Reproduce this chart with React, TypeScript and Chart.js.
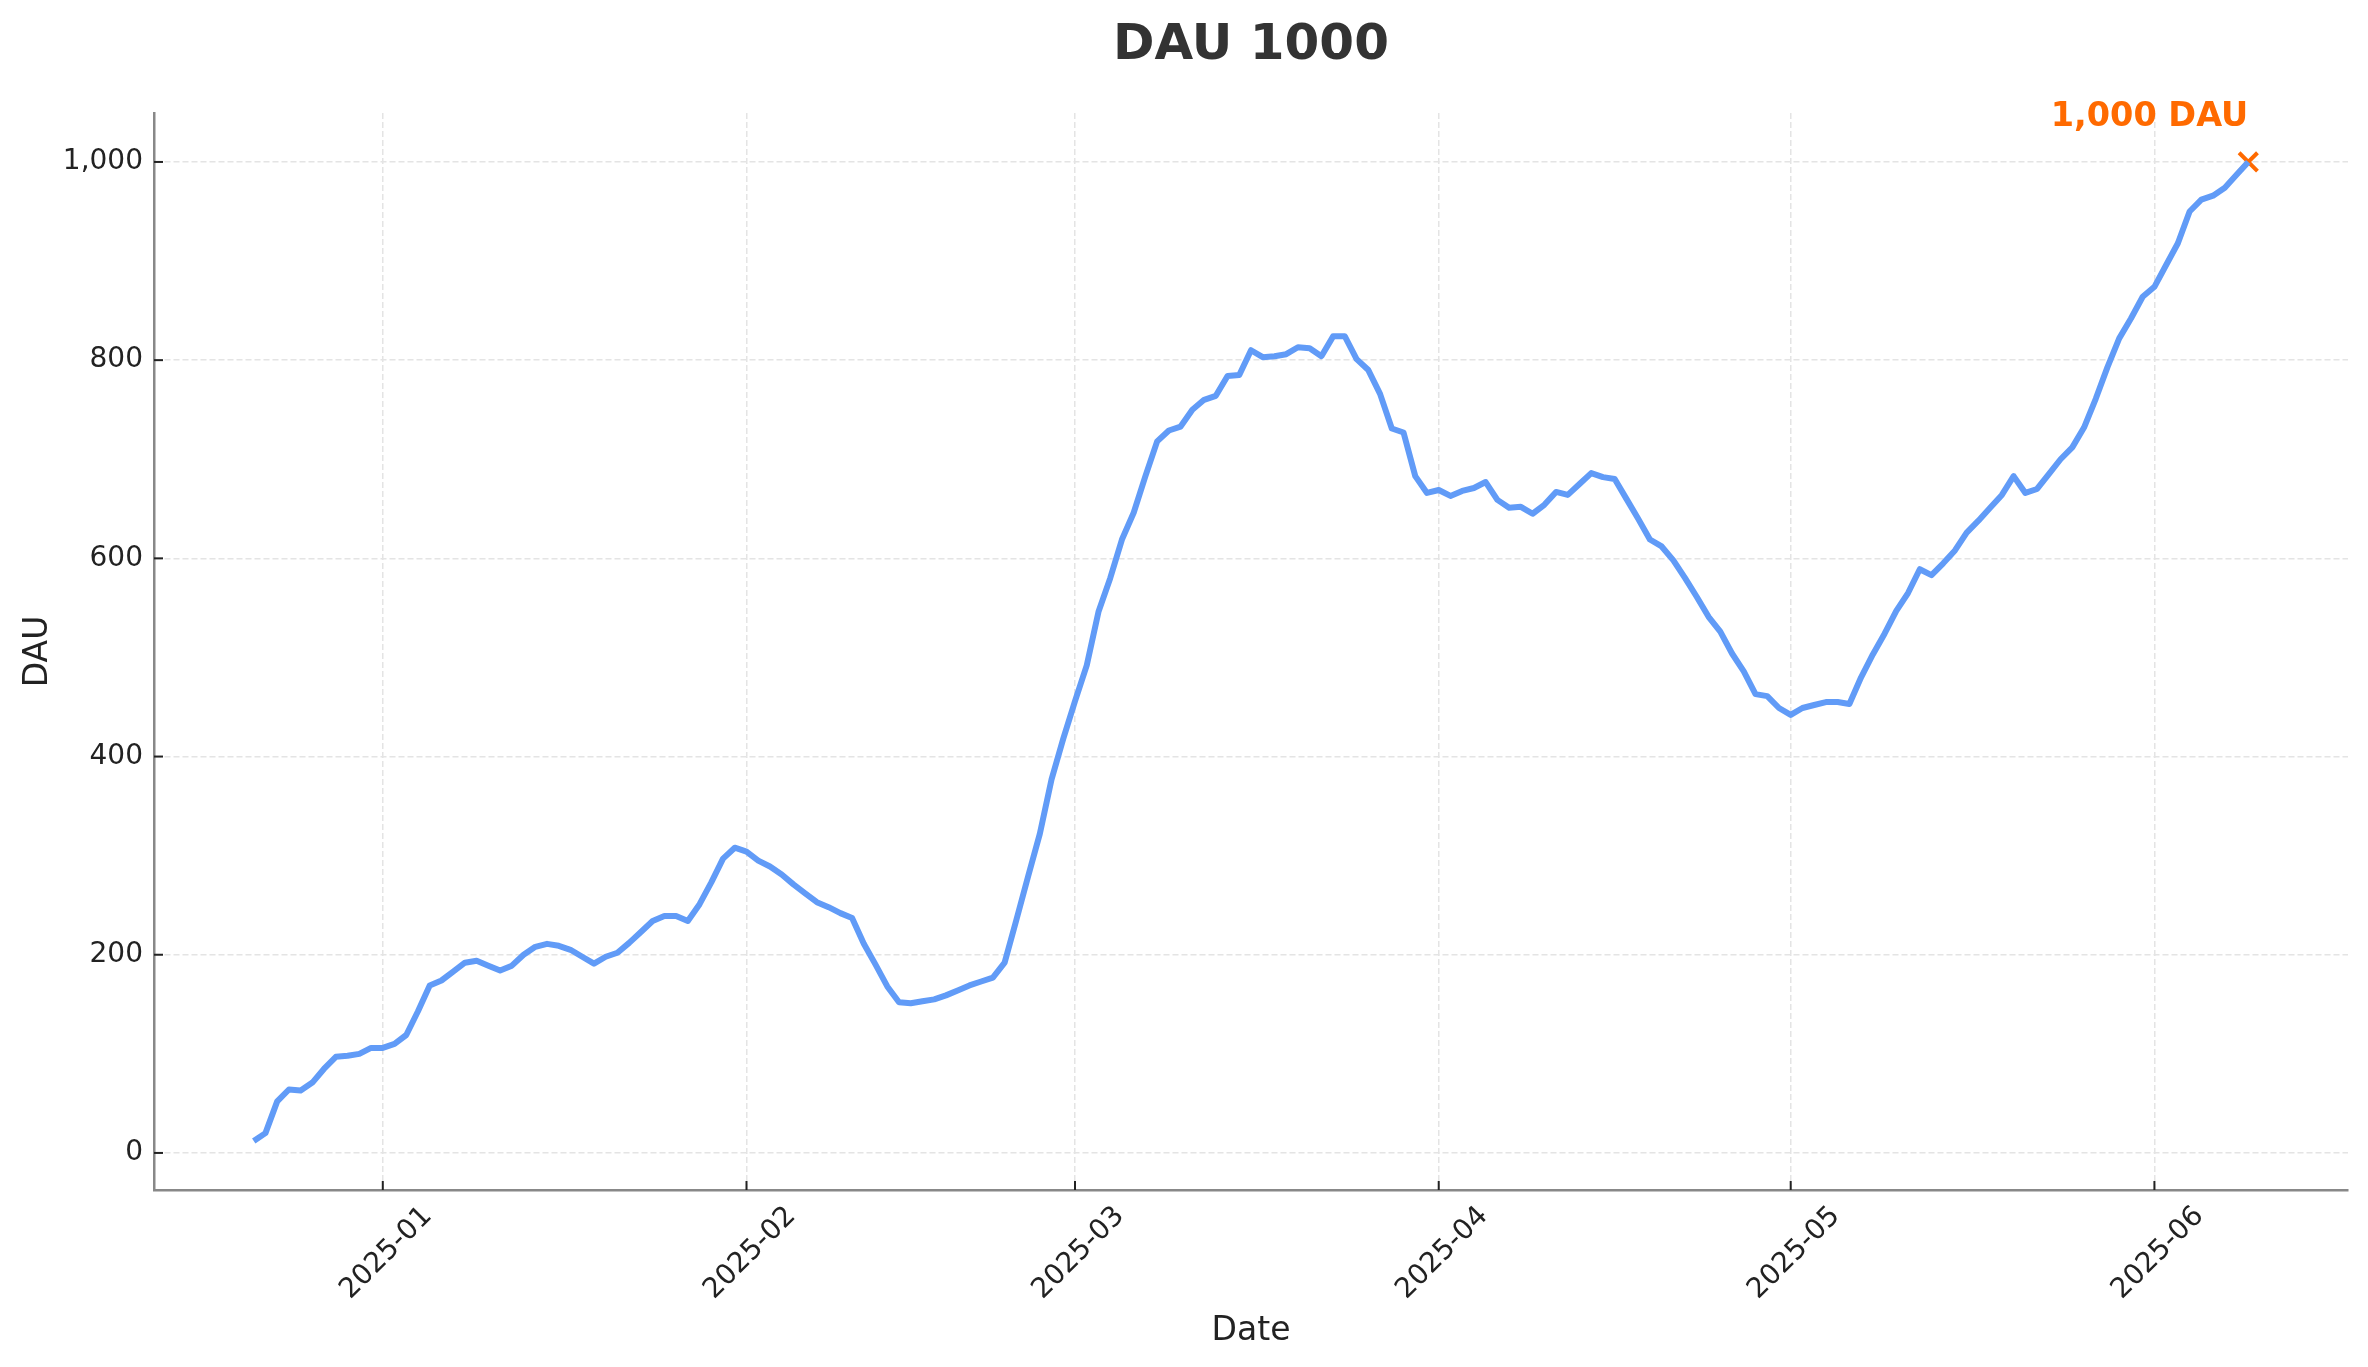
import React, { useEffect, useRef } from 'react';
import { Chart, registerables } from 'chart.js';

Chart.register(...registerables);

// ---------- data ----------
const START_DATE = '2024-12-21';
const DAU_VALUES = [
  // Dec 21 - Dec 31
  12, 20, 52, 64, 63, 71, 85, 97, 98, 100, 106,
  // Jan
  106, 110, 119, 143, 169, 174, 183, 192, 194, 189,
  184, 189, 200, 208, 211, 209, 205, 198, 191, 198,
  202, 212, 223, 234, 239, 239, 234, 251, 273, 297, 308,
  // Feb
  304, 295, 289, 281, 271, 262, 253, 248, 242, 237,
  211, 190, 168, 152, 151, 153, 155, 159, 164, 169,
  173, 177, 192, 235, 279, 322, 377, 418,
  // Mar
  456, 492, 546, 580, 619, 646, 683, 718, 729, 733,
  750, 760, 764, 784, 785, 810, 803, 804, 806, 813,
  812, 804, 824, 824, 801, 790, 766, 731, 727, 683, 666,
  // Apr
  669, 663, 668, 671, 677, 659, 651, 652, 645, 654,
  667, 664, 675, 686, 682, 680, 660, 640, 619, 612,
  598, 580, 561, 541, 526, 504, 486, 463, 461, 449,
  // May
  442, 449, 452, 455, 455, 453, 480, 503, 524, 547,
  565, 589, 583, 595, 608, 626, 638, 651, 664, 683,
  666, 670, 685, 700, 712, 732, 761, 793, 822, 842, 864,
  // Jun 1 - Jun 9
  874, 896, 918, 950, 962, 966, 974, 987, 1000,
];
const Y_TICKS = [0, 200, 400, 600, 800, 1000];
const MONTH_TICK_DATES = ['2025-01-01', '2025-02-01', '2025-03-01', '2025-04-01', '2025-05-01', '2025-06-01'];
const MONTH_TICK_LABELS = ['2025-01', '2025-02', '2025-03', '2025-04', '2025-05', '2025-06'];
const TITLE = 'DAU 1000';
const X_TITLE = 'Date';
const Y_TITLE = 'DAU';
const MILESTONE_LABEL = '1,000 DAU';

// ---------- helpers ----------
const DAY_MS = 86400000;
const toDay = (s: string) => Date.parse(s + 'T00:00:00Z') / DAY_MS;
const START_DAY = toDay(START_DATE);
const DAYS = DAU_VALUES.map((_, i) => START_DAY + i);
const MONTH_TICK_DAYS = MONTH_TICK_DATES.map(toDay);

const LINE_COLOR = '#619bf7';
const ORANGE = '#ff6a00';
const FONT = "'DejaVu Sans', sans-serif";

export default function App() {
  const canvasRef = useRef<HTMLCanvasElement | null>(null);

  useEffect(() => {
    document.body.style.margin = '0';
    const canvas = canvasRef.current;
    if (!canvas) return;

    const xSpan = DAYS[DAYS.length - 1] - DAYS[0];
    const xMin = DAYS[0] - 0.05 * xSpan;
    const xMax = DAYS[DAYS.length - 1] + 0.05 * xSpan;
    const yLo = Math.min(...DAU_VALUES);
    const yHi = Math.max(...DAU_VALUES);
    const ySpan = yHi - yLo;
    const yMin = yLo - 0.05 * ySpan;
    const yMax = yHi + 0.05 * ySpan;

    const lastIdx = DAU_VALUES.length - 1;

    const overlay = {
      id: 'overlay',
      afterDatasetsDraw(chart: any) {
        const { ctx, chartArea } = chart;
        const xs = chart.scales.x;
        const ys = chart.scales.y;
        ctx.save();
        ctx.strokeStyle = '#222';
        ctx.lineWidth = 2;
        xs.ticks.forEach((t: any) => {
          const px = xs.getPixelForValue(t.value);
          ctx.beginPath();
          ctx.moveTo(px, chartArea.bottom);
          ctx.lineTo(px, chartArea.bottom - 9);
          ctx.stroke();
        });
        ys.ticks.forEach((t: any) => {
          const py = ys.getPixelForValue(t.value);
          ctx.beginPath();
          ctx.moveTo(chartArea.left, py);
          ctx.lineTo(chartArea.left + 9, py);
          ctx.stroke();
        });
        const pt = chart.getDatasetMeta(1).data[0];
        if (pt) {
          ctx.fillStyle = ORANGE;
          ctx.font = `bold 33.5px ${FONT}`;
          ctx.textAlign = 'right';
          ctx.textBaseline = 'alphabetic';
          ctx.fillText(MILESTONE_LABEL, pt.x, pt.y - 36);
        }
        ctx.restore();
      },
    };

    const chart = new Chart(canvas, {
      type: 'line',
      data: {
        datasets: [
          {
            label: Y_TITLE,
            data: DAYS.map((d, i) => ({ x: d, y: DAU_VALUES[i] })),
            borderColor: LINE_COLOR,
            backgroundColor: LINE_COLOR,
            borderWidth: 6,
            pointRadius: 0,
            tension: 0,
            borderJoinStyle: 'round',
            borderCapStyle: 'butt',
          },
          {
            type: 'scatter',
            label: MILESTONE_LABEL,
            data: [{ x: DAYS[lastIdx], y: DAU_VALUES[lastIdx] }],
            pointStyle: 'crossRot',
            pointRadius: 13,
            borderWidth: 4,
            borderColor: ORANGE,
            backgroundColor: ORANGE,
          } as any,
        ],
      },
      options: {
        animation: false,
        responsive: false,
        devicePixelRatio: 1,
        layout: { padding: { left: 0, right: 20, top: 0, bottom: 0 } },
        plugins: {
          legend: { display: false },
          tooltip: { enabled: false },
          title: {
            display: true,
            text: TITLE,
            color: '#333',
            fullSize: false,
            font: { family: FONT, size: 50, weight: 'bold', lineHeight: 1.2 },
            padding: { top: 16, bottom: 37 },
          },
        },
        scales: {
          x: {
            type: 'linear',
            min: xMin,
            max: xMax,
            afterFit: (s: any) => { s.height = 177; },
            afterBuildTicks: (s: any) => { s.ticks = MONTH_TICK_DAYS.map((v) => ({ value: v })); },
            ticks: {
              callback: (v: any) => {
                const i = MONTH_TICK_DAYS.indexOf(Number(v));
                return i >= 0 ? MONTH_TICK_LABELS[i] : '';
              },
              minRotation: 45,
              maxRotation: 45,
              autoSkip: false,
              color: '#222',
              font: { family: FONT, size: 28 },
              padding: 10,
              labelOffset: 45,
            },
            grid: { color: '#e4e4e4', lineWidth: 1.5, drawTicks: false },
            border: { display: true, color: '#888', width: 2.5, dash: [6, 3] },
            title: {
              display: true,
              text: X_TITLE,
              color: '#222',
              font: { family: FONT, size: 33 },
              padding: { top: 0, bottom: 16 },
            },
          },
          y: {
            type: 'linear',
            min: yMin,
            max: yMax,
            afterFit: (s: any) => { s.width = 154; },
            afterBuildTicks: (s: any) => { s.ticks = Y_TICKS.map((v) => ({ value: v })); },
            ticks: {
              callback: (v: any) => Number(v).toLocaleString('en-US'),
              color: '#222',
              font: { family: FONT, size: 28 },
              padding: 11,
            },
            grid: { color: '#e4e4e4', lineWidth: 1.5, drawTicks: false },
            border: { display: true, color: '#888', width: 2.5, dash: [6, 3] },
            title: {
              display: true,
              text: Y_TITLE,
              color: '#222',
              font: { family: FONT, size: 33 },
              padding: { top: 19, bottom: 0 },
            },
          },
        },
      },
      plugins: [overlay],
    } as any);

    return () => chart.destroy();
  }, []);

  return (
    <div style={{ width: 2368, height: 1367, background: '#fff' }}>
      <canvas ref={canvasRef} width={2368} height={1367} style={{ display: 'block' }} />
    </div>
  );
}
